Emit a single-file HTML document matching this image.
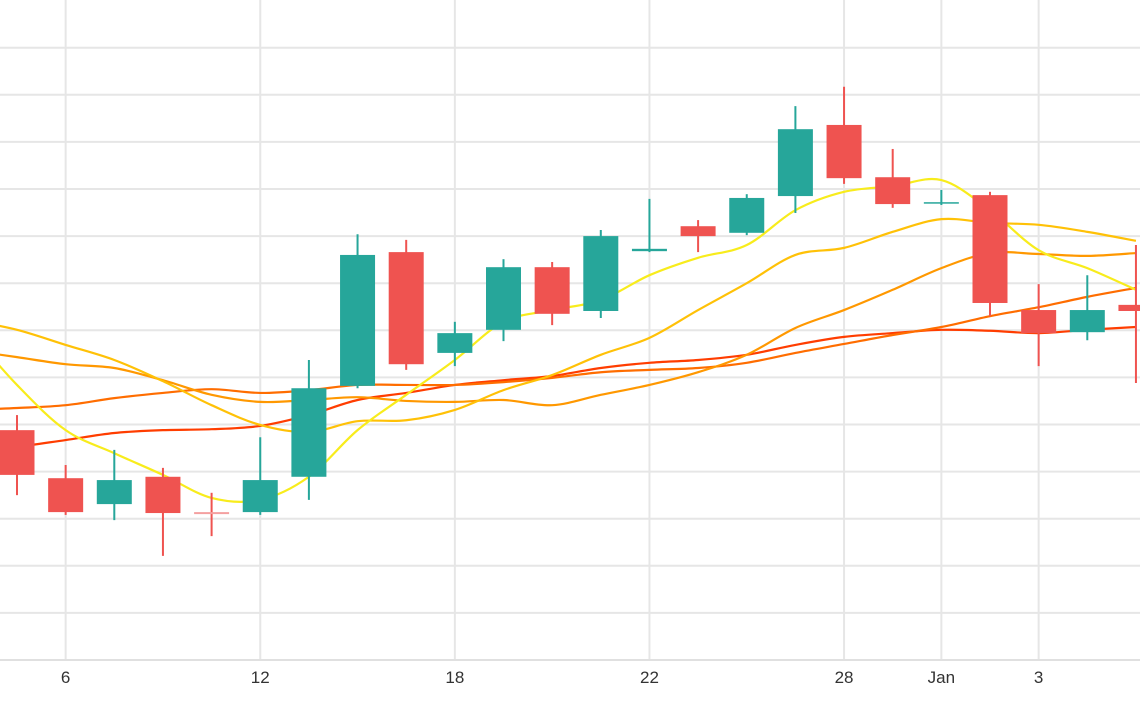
<!DOCTYPE html>
<html><head><meta charset="utf-8"><style>
html,body{margin:0;padding:0;background:#fff;}
svg{display:block;font-family:"Liberation Sans",sans-serif;}
</style></head><body>
<svg id="chart" width="1140" height="710" viewBox="0 0 1140 710">
<g id="grid"></g>
<g id="lines"></g>
<g id="candles"></g>
<g id="xaxis"></g>
</svg>
<script>
const opens  = [48.8,38.6,33.1,38.9,31.4,31.4,38.9,58.2,86.6,65.2,70.1,83.4,74.1,86.8,92.1,90.7,98.5,113.6,102.5,97.0,98.7,74.3,69.6,75.4];
const highs  = [52.0,41.4,44.6,40.8,35.5,47.3,63.7,90.4,89.2,71.8,85.1,84.5,91.3,97.9,93.4,98.9,117.6,121.7,108.5,99.8,99.4,79.8,81.7,88.1];
const lows   = [35.0,30.8,29.7,22.1,26.3,30.8,34.0,57.7,61.6,62.4,67.7,71.1,72.6,86.6,86.6,90.2,94.9,101.1,96.0,96.6,73.0,62.4,67.9,58.8];
const closes = [39.3,31.4,38.2,31.2,31.2,38.2,57.7,86.0,62.8,69.4,83.4,73.5,90.0,87.3,90.0,98.1,112.7,102.3,96.8,97.2,75.8,69.4,74.3,74.1];
const dojiDown = [false,false,false,false,true,false,false,false,false,false,false,false,false,false,false,false,false,false,false,false,false,false,false,false];
// moving averages, starting at index -1
const maYellow = [70.1,58.4,48.8,43.9,39.3,34.4,34.0,38.9,48.8,56.3,63.7,71.8,74.3,76.4,81.7,85.4,88.1,95.5,99.4,100.6,101.9,95.5,87.0,83.2,78.6];
const maGold   = [72.2,70.1,66.9,63.7,59.2,54.1,49.9,48.4,50.7,50.9,53.1,57.3,60.5,64.8,68.4,74.3,80.0,86.0,87.5,90.9,93.6,92.8,92.4,90.9,89.0];
const maOrange = [65.8,64.3,62.8,62.0,59.4,56.3,54.8,55.2,55.8,55.0,54.8,55.2,54.1,56.3,58.4,61.1,64.8,70.5,74.3,78.6,83.2,86.4,86.2,85.8,86.4];
const maDark   = [53.1,53.5,54.1,55.6,56.7,57.5,56.7,57.3,58.4,58.4,58.4,59.0,59.9,61.1,61.6,62.0,63.1,65.2,67.1,69.0,70.7,73.0,74.9,77.1,79.0];
const maRed    = [43.5,45.2,46.7,48.2,48.8,49.0,49.7,52.0,55.2,56.7,58.4,59.4,60.3,62.0,63.1,63.7,64.8,66.9,68.6,69.4,70.1,69.9,69.4,70.1,70.7];
const tickIdx    = [1,5,9,13,17,19,21];
const tickLabels = ["6","12","18","22","28","Jan","3"];
const yTicks = [10,20,30,40,50,60,70,80,90,100,110,120,130];

const NS="http://www.w3.org/2000/svg";
const X = i => 17 + i*48.65;
const Y = p => 660 - p*4.71;
function mk(tag, attrs, parent){const e=document.createElementNS(NS,tag);for(const k in attrs)e.setAttribute(k,attrs[k]);parent.appendChild(e);return e;}

const grid=document.getElementById('grid');
yTicks.forEach(t=>{const l=mk('line',{x1:0,x2:1140,y1:Y(t),y2:Y(t),stroke:'#e6e6e6','stroke-width':2},grid);

});
tickIdx.forEach(i=>{const l=mk('line',{x1:X(i),x2:X(i),y1:0,y2:660,stroke:'#e6e6e6','stroke-width':2},grid);

});
const base=mk('line',{x1:0,x2:1140,y1:660,y2:660,stroke:'#e0e0e0','stroke-width':2},grid);



function smooth(vals,start){
  const pts=vals.map((v,k)=>[X(k+start),Y(v)]);
  let d='M'+pts[0][0]+','+pts[0][1];
  for(let i=0;i<pts.length-1;i++){
    const p0=pts[i-1]||pts[i],p1=pts[i],p2=pts[i+1],p3=pts[i+2]||p2;
    const c1=[p1[0]+(p2[0]-p0[0])/6,p1[1]+(p2[1]-p0[1])/6];
    const c2=[p2[0]-(p3[0]-p1[0])/6,p2[1]-(p3[1]-p1[1])/6];
    d+=` C${c1[0]},${c1[1]} ${c2[0]},${c2[1]} ${p2[0]},${p2[1]}`;
  }
  return d;
}
const lines=document.getElementById('lines');
[[maRed,'#ff3d00','ma-red'],[maDark,'#ff6d00','ma-dark-orange'],[maOrange,'#ff9800','ma-orange'],[maGold,'#ffc107','ma-gold'],[maYellow,'#f8ec1c','ma-yellow']].forEach(([v,c,n])=>{
  const p=mk('path',{d:smooth(v,-1),fill:'none',stroke:c,'stroke-width':2.2},lines);
  
  
});

const cg=document.getElementById('candles');
opens.forEach((o,i)=>{
  const c=closes[i];
  const up = c>o || (c===o && !dojiDown[i]);
  const col = dojiDown[i] ? '#f4a0a0' : (up?'#26a69a':'#ef5350');
  const g=mk('g',{},cg);
  
  
  const x=X(i);
  mk('line',{x1:x,x2:x,y1:Y(highs[i]),y2:Y(lows[i]),stroke:dojiDown[i]?'#ef5350':col,'stroke-width':2},g);
  const top=Y(Math.max(o,c)),h=Math.max(Math.abs(Y(o)-Y(c)),dojiDown[i]?2:1.5);
  mk('rect',{x:x-17.5,y:top,width:35,height:h,fill:col},g);
});

const xa=document.getElementById('xaxis');
tickIdx.forEach((i,k)=>{
  const t=mk('text',{x:X(i),y:683,'text-anchor':'middle','font-size':17,fill:'#333'},xa);
  t.textContent=tickLabels[k];
  
  
});
</script>
</body></html>
